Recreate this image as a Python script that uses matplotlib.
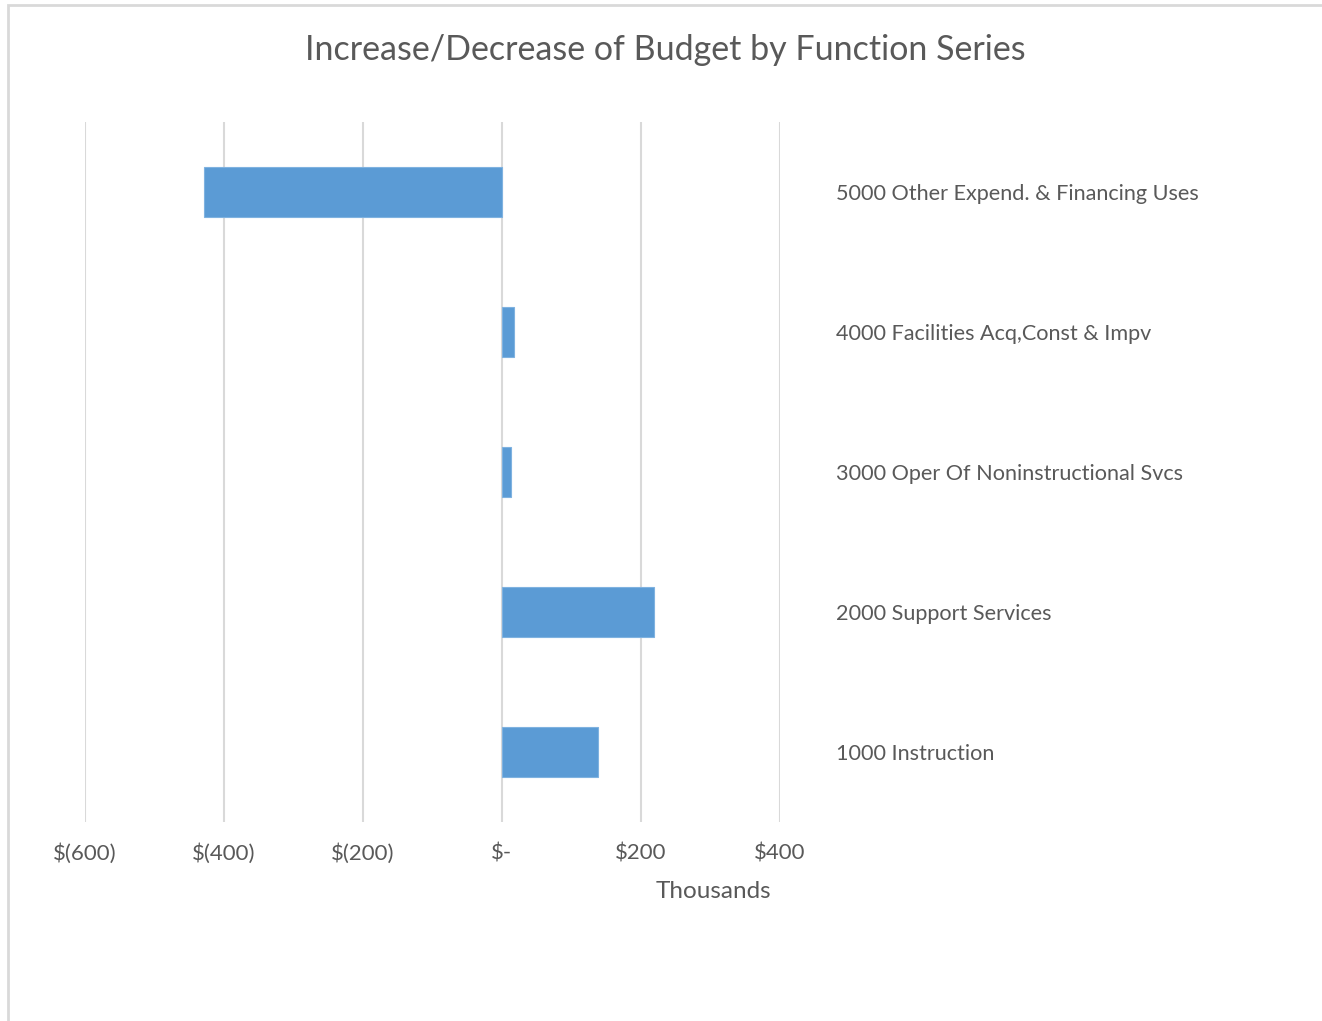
import matplotlib
matplotlib.use("Agg")
import matplotlib.pyplot as plt
from matplotlib.patches import Rectangle

categories = ["1000 Instruction", "2000 Support Services", "3000 Oper Of Noninstructional Svcs",
              "4000 Facilities Acq,Const & Impv", "5000 Other Expend. & Financing Uses"]
values = [138, 219, 13, 17, -429]  # thousands of dollars
xticks = [-600, -400, -200, 0, 200, 400]
xtick_labels = ["$(600)", "$(400)", "$(200)", "$-", "$200", "$400"]

plt.rcParams['font.family'] = ['Lato', 'DejaVu Sans']

W, H = 1322, 1021
fig = plt.figure(figsize=(W / 100, H / 100), dpi=100)
fig.patch.set_facecolor('white')

ax = fig.add_axes([85 / W, 1 - 822 / H, (780 - 85) / W, (822 - 122) / H])
y = list(range(len(categories)))
ax.barh(y, values, height=0.353, color='#5B9BD5', edgecolor='#7FB2E0', linewidth=0.8, zorder=3)

ax.set_xlim(-600, 400)
ax.set_ylim(-0.5, len(categories) - 0.5)
ax.set_xticks(xticks)
ax.set_xticklabels(xtick_labels)
ax.grid(axis='x', color='#d9d9d9', linewidth=1.5, zorder=0)
ax.grid(axis='y', visible=False)
for s in ax.spines.values():
    s.set_visible(False)

ax.yaxis.tick_right()
ax.set_yticks(y)
ax.set_yticklabels(categories)
ax.tick_params(axis='y', length=0, pad=40, labelsize=15.6, labelcolor='#595959')
ax.tick_params(axis='x', length=0, pad=23, labelsize=16, labelcolor='#595959')
for lbl in ax.get_xticklabels():
    lbl.set_verticalalignment('center')

fig.text(713 / W, 1 - 891 / H, "Thousands", ha='center', va='center', fontsize=17.5, color='#595959')
fig.text(665 / W, 1 - 50 / H, "Increase/Decrease of Budget by Function Series",
         ha='center', va='center', fontsize=24.5, color='#595959')

fig.patches.append(Rectangle((7.5 / W, -0.1), 1.2, 1.1 - 5.5 / H, transform=fig.transFigure,
                             fill=False, edgecolor='#d9d9d9', linewidth=2, figure=fig))

fig.savefig("out.png", dpi=100)
